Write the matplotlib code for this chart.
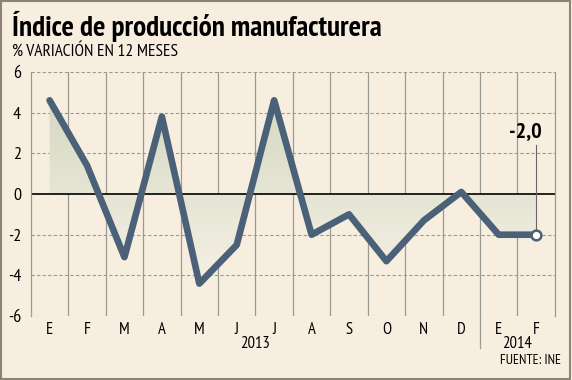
import matplotlib.pyplot as plt
import numpy as np
from matplotlib.colors import LinearSegmentedColormap
from matplotlib.patches import Rectangle

months = ["E", "F", "M", "A", "M", "J", "J", "A", "S", "O", "N", "D", "E", "F"]
years = ["2013", "2014"]
year_spans = [(0, 12), (12, 14)]
values = [4.6, 1.4, -3.1, 3.8, -4.4, -2.5, 4.6, -2.0, -1.0, -3.3, -1.3, 0.1, -2.0, -2.0]
yticks = [6, 4, 2, 0, -2, -4, -6]

BG = "#f8eee0"
LINE = "#4a6178"
GRID = "#9a9a94"
NARROW = ["PT Sans Narrow", "DejaVu Sans"]

fig = plt.figure(figsize=(5.72, 3.80), dpi=100, facecolor=BG)
fig.patches.append(Rectangle((0.002, 0.003), 0.995, 0.994, transform=fig.transFigure,
                             fill=False, edgecolor="#8c8278", linewidth=1.5))
ax = fig.add_axes([0.054, 0.168, 0.916, 0.643])
ax.set_facecolor(BG)

x = np.arange(len(values)) + 0.5
ax.set_xlim(0, 14)
ax.set_ylim(-6, 6)

# gradient fill between the line and zero, dark at top fading downwards
poly = ax.fill_between(x, values, 0, color="none")
cmap = LinearSegmentedColormap.from_list("g", ["#f7f2e8", "#d4d8c0"])
grad = np.linspace(1, 0, 256).reshape(-1, 1)
img = ax.imshow(grad, cmap=cmap, extent=[0, 14, -5, 5], aspect="auto",
                origin="upper", zorder=1, vmin=0, vmax=1)
img.set_clip_path(poly.get_paths()[0], transform=ax.transData)

for yv in yticks:
    if yv != 0:
        ax.axhline(yv, color=GRID, lw=0.8, ls=(0, (3, 2)), zorder=0.5)
for xv in range(1, 14):
    ax.axvline(xv, color=GRID, lw=0.9, zorder=0.5)
ax.axhline(0, color="black", lw=1.2, zorder=2)

ax.plot(x, values, color=LINE, lw=4.8, solid_joinstyle="round",
        solid_capstyle="round", zorder=3)
ax.plot(x[-1], values[-1], "o", ms=7, mfc="white", mec=LINE, mew=1.8, zorder=4)
ax.plot([x[-1], x[-1]], [values[-1] + 0.25, 2.4], color="#666666", lw=0.8, zorder=2)
ax.text(x[-1] + 0.15, 2.6, "-2,0", ha="right", va="bottom", fontsize=16,
        fontweight="bold", family=NARROW)

for s in ["top", "bottom"]:
    ax.spines[s].set_visible(False)
for s in ["left", "right"]:
    ax.spines[s].set_color(GRID)
    ax.spines[s].set_linewidth(0.9)

ax.set_yticks(yticks)
ax.set_yticklabels([str(v) for v in yticks], fontsize=13, family=NARROW)
ax.tick_params(axis="y", length=0, pad=7)
ax.set_xticks(x)
ax.set_xticklabels(months, fontsize=12, family=NARROW)
ax.tick_params(axis="x", length=0, pad=4)

for label, (a, b) in zip(years, year_spans):
    ax.text((a + b) / 2, -6.95, label, ha="center", va="top", fontsize=12,
            family=NARROW)
ax.plot([12, 12], [-6, -7.55], color=GRID, lw=0.9, clip_on=False)

fig.text(0.021, 0.97, "Índice de producción manufacturera", fontsize=21,
         fontweight="bold", va="top", ha="left", family=NARROW)
fig.text(0.021, 0.885, "% VARIACIÓN EN 12 MESES", fontsize=12.5, va="top",
         ha="left", family=NARROW)
fig.text(0.98, 0.035, "FUENTE: INE", fontsize=10, va="bottom", ha="right",
         family=NARROW)

fig.savefig("out.png", dpi=100, facecolor=BG)
